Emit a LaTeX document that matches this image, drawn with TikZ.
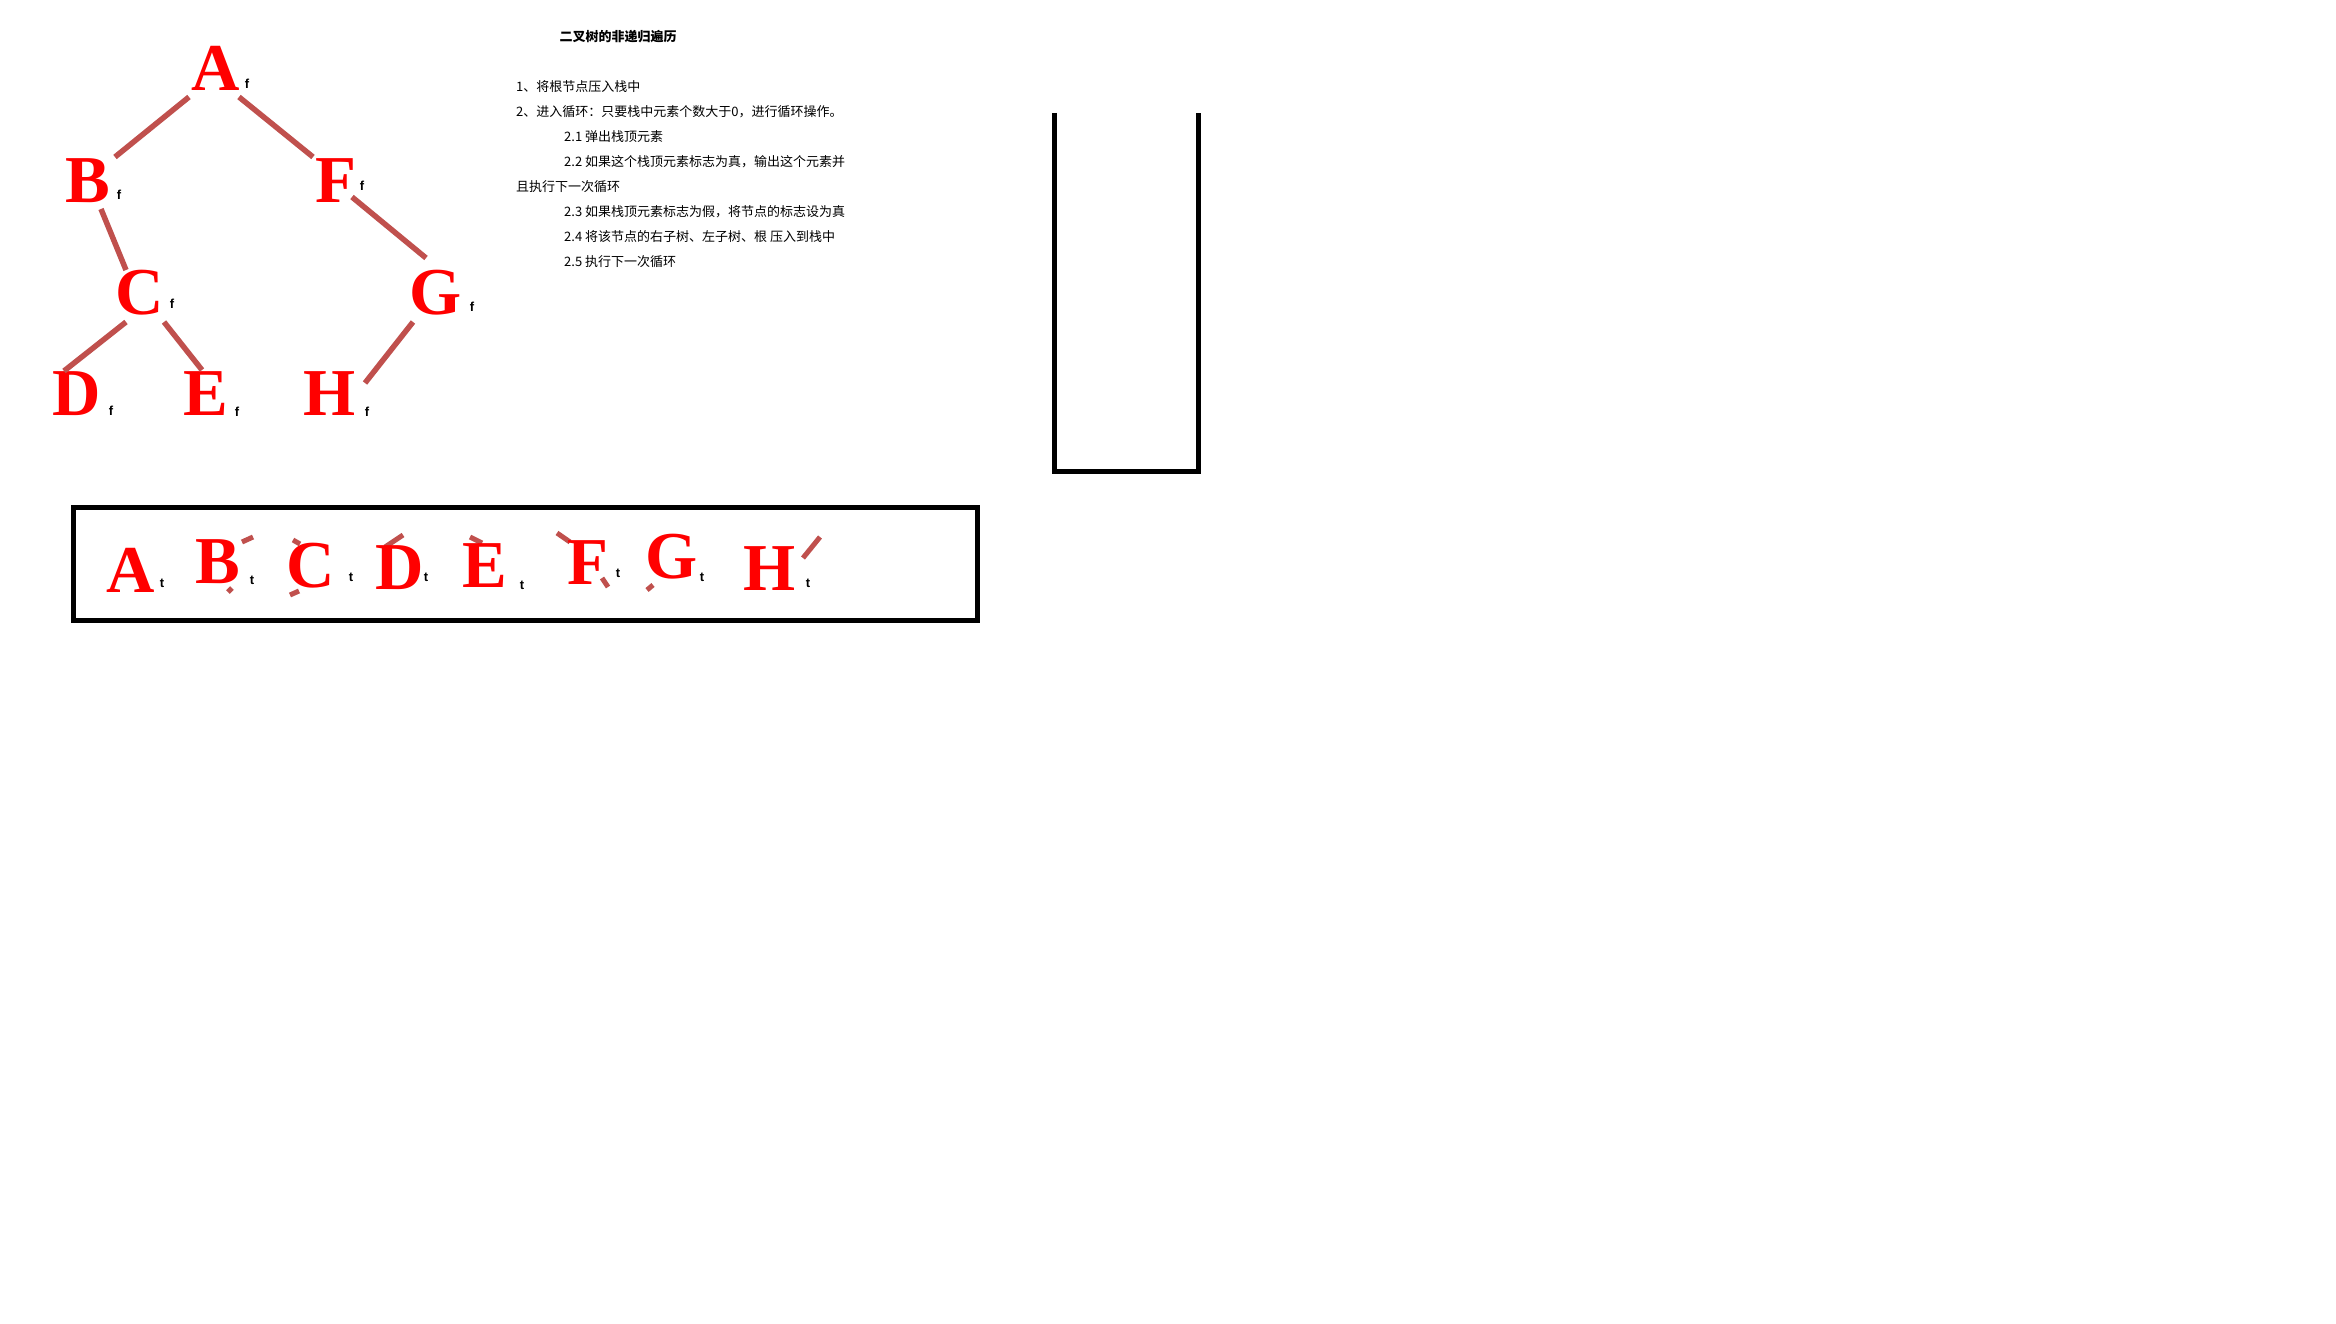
\documentclass[tikz,border=0pt]{standalone}
\usepackage{fontspec}
\newfontfamily\cjk{Noto Sans CJK SC}
\newfontfamily\letterfont{Liberation Serif}
\newfontfamily\subfont{Liberation Sans}
\definecolor{edgered}{HTML}{C0504D}
\tikzset{
  letter/.style={inner sep=0pt, text=red, font=\letterfont\bfseries\fontsize{67}{67}\selectfont},
  sub/.style={inner sep=0pt, text=black, font=\subfont\bfseries\fontsize{13}{13}\selectfont},
  edge/.style={draw=edgered, line width=5.5pt},
  frag/.style={draw=edgered, line width=5pt},
  txt/.style={inner sep=0pt, anchor=west, font=\cjk\fontsize{13}{13}\selectfont},
}
\begin{document}
\begin{tikzpicture}[x=1pt,y=-1pt]
\useasboundingbox[fill=white] (0,0) rectangle (2336,1324);
% tree letters
\node[letter] (A) at (216,68) {A};
\node[letter] (B) at (88,181) {B};
\node[letter] (F) at (336,181) {F};
\node[letter] (C) at (140,293) {C};
\node[letter] (G) at (436,293) {G};
\node[letter] (D) at (77,394) {D};
\node[letter] (E) at (206,394) {E};
\node[letter] (H) at (330,394) {H};
\node[sub] (Af) at (247,84) {f};
\node[sub] (Bf) at (119,195) {f};
\node[sub] (Ff) at (362,186) {f};
\node[sub] (Cf) at (172,304) {f};
\node[sub] (Gf) at (472,307) {f};
\node[sub] (Df) at (111,411) {f};
\node[sub] (Ef) at (237,412) {f};
\node[sub] (Hf) at (367,412) {f};
% edge end points
\coordinate (ab1) at (189,97);  \coordinate (ab2) at (115,157);
\coordinate (af1) at (239,97);  \coordinate (af2) at (313,157);
\coordinate (bc1) at (101,209); \coordinate (bc2) at (126,270);
\coordinate (fg1) at (352,197); \coordinate (fg2) at (426,258);
\coordinate (cd1) at (126,322); \coordinate (cd2) at (64,371);
\coordinate (ce1) at (164,322); \coordinate (ce2) at (202,370);
\coordinate (gh1) at (413,322); \coordinate (gh2) at (365,383);
\draw[edge] (ab1) -- (ab2);
\draw[edge] (af1) -- (af2);
\draw[edge] (bc1) -- (bc2);
\draw[edge] (fg1) -- (fg2);
\draw[edge] (cd1) -- (cd2);
\draw[edge] (ce1) -- (ce2);
\draw[edge] (gh1) -- (gh2);
% text
\node[inner sep=0pt, font=\cjk\bfseries\fontsize{13}{13}\selectfont] (title) at (618,37) {二叉树的非递归遍历};
\node[txt] (l1) at (516,87) {1、将根节点压入栈中};
\node[txt] (l2) at (516,112) {2、进入循环：只要栈中元素个数大于0，进行循环操作。};
\node[txt] (l21) at (564,137) {2.1 弹出栈顶元素};
\node[txt] (l22) at (564,162) {2.2 如果这个栈顶元素标志为真，输出这个元素并};
\node[txt] (l22b) at (516,187) {且执行下一次循环};
\node[txt] (l23) at (564,212) {2.3 如果栈顶元素标志为假，将节点的标志设为真};
\node[txt] (l24) at (564,237) {2.4 将该节点的右子树、左子树、根 压入到栈中};
\node[txt] (l25) at (564,262) {2.5 执行下一次循环};
% stack
\coordinate (s1) at (1054.5,113);
\coordinate (s2) at (1054.5,471.5);
\coordinate (s3) at (1198.5,471.5);
\coordinate (s4) at (1198.5,113);
\draw[line width=5pt, line join=miter] (s1) -- (s2) -- (s3) -- (s4);
% output box
\coordinate (b1) at (73.5,507.5);
\coordinate (b2) at (977.5,620.5);
\draw[line width=5pt] (b1) rectangle (b2);
% edge fragments in box
\draw[frag] (242,542) -- (253,537);
\draw[frag] (228,592) -- (232,588);
\draw[frag] (293,540) -- (300,544);
\draw[frag] (290,595) -- (299,591);
\draw[frag] (385,547) -- (403,535);
\draw[frag] (470,537) -- (482,543);
\draw[frag] (557,533) -- (570,542);
\draw[frag] (602,578) -- (608,587);
\draw[frag] (647,590) -- (653,585);
\draw[frag] (803,558) -- (820,537);
% box letters
\node[letter] (oA) at (131,570) {A};
\node[letter] (oB) at (218,562) {B};
\node[letter] (oC) at (311,566) {C};
\node[letter] (oD) at (400,568) {D};
\node[letter] (oE) at (485,566) {E};
\node[letter] (oF) at (588,563) {F};
\node[letter] (oG) at (672,557) {G};
\node[letter] (oH) at (770,569) {H};
\node[sub] (oAt) at (162,583) {t};
\node[sub] (oBt) at (252,580) {t};
\node[sub] (oCt) at (351,577) {t};
\node[sub] (oDt) at (426,577) {t};
\node[sub] (oEt) at (522,585) {t};
\node[sub] (oFt) at (618,573) {t};
\node[sub] (oGt) at (702,577) {t};
\node[sub] (oHt) at (808,583) {t};
\end{tikzpicture}
\end{document}
